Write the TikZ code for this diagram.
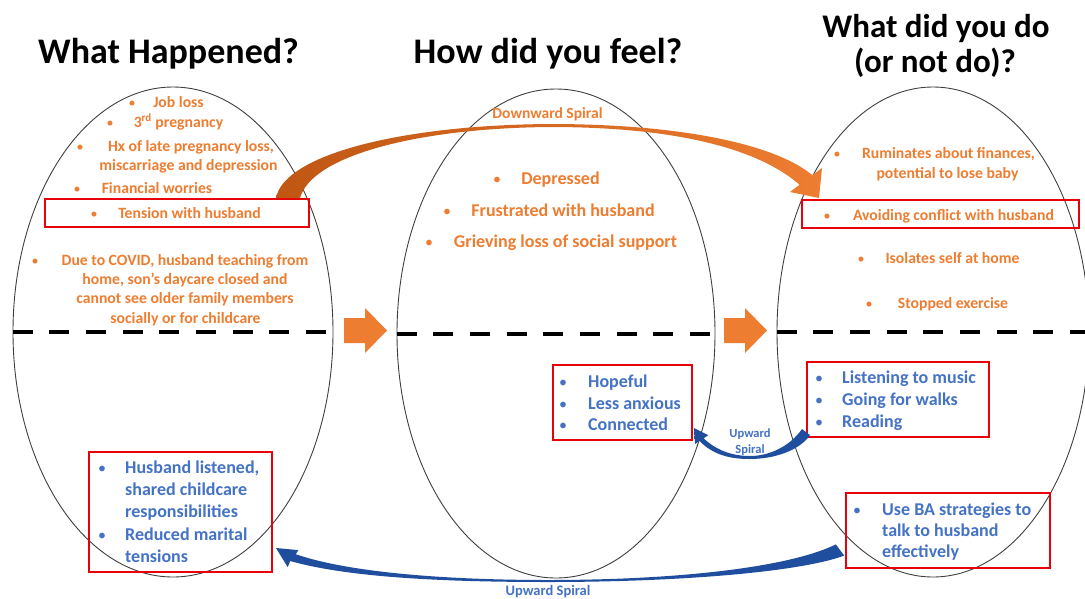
\documentclass[tikz,border=0pt]{standalone}
\usepackage{fontspec}
\setmainfont{Carlito}
\usetikzlibrary{shapes.geometric}
\definecolor{orng}{HTML}{ED7D31}
\definecolor{brwn}{HTML}{BF5612}
\definecolor{blu}{HTML}{4472C4}
\definecolor{dblu}{HTML}{1F4E9E}
\definecolor{redb}{HTML}{E8000B}
\tikzset{
  oval/.style={ellipse, draw=black!75, line width=0.9pt, inner sep=0pt},
  redbox/.style={draw=redb, line width=1.8pt, inner sep=0pt},
  ttl/.style={font=\fontsize{36}{40}\selectfont\bfseries, anchor=base, inner sep=0pt},
  otxt/.style={text=orng, font=\fontsize{15.7}{19}\selectfont\bfseries, anchor=base, inner sep=0pt},
  obig/.style={text=orng, font=\fontsize{18}{22}\selectfont\bfseries, anchor=base, inner sep=0pt},
  btxt/.style={text=blu, font=\fontsize{18}{22}\selectfont\bfseries, anchor=base west, inner sep=0pt},
  obul/.style={text=orng, font=\fontsize{14}{16}\selectfont, anchor=base, inner sep=0pt},
  bbul/.style={text=blu, font=\fontsize{16}{18}\selectfont, anchor=base, inner sep=0pt},
  lbl/.style={font=\fontsize{15.5}{18}\selectfont\bfseries, anchor=base, inner sep=0pt},
  midline/.style={line width=4pt, dash pattern=on 20pt off 16.7pt},
  blockarrow/.style={fill=orng, draw=none},
}
\begin{document}
\begin{tikzpicture}[x=1pt,y=-1pt]
\useasboundingbox (0,0) rectangle (1085,598);
\fill[white] (0,0) rectangle (1085,598);

% ovals
\node[oval, minimum width=320, minimum height=490] (e1) at (173,332) {};
\node[oval, minimum width=318, minimum height=489] (e2) at (556,333.5) {};
\node[oval, minimum width=312, minimum height=490] (e3) at (933,332) {};

% dashed divider
\draw[midline] (e1.west) -- (e1.east);
\draw[midline] (e2.west) -- (e2.east);
\draw[midline] (e3.west) -- (e3.east);

% block arrows
\fill[blockarrow] (344,318) -- (365,318) -- (365,308) -- (387,330.5) -- (365,353) -- (365,343) -- (344,343) -- cycle;
\fill[blockarrow] (724,318) -- (745,318) -- (745,308) -- (767,330.5) -- (745,353) -- (745,343) -- (724,343) -- cycle;

% titles
\node[ttl] (t1) at (168.5,63) {What Happened?};
\node[ttl] (t2) at (548,63) {How did you feel?};
\node[ttl, font=\fontsize{33}{38}\selectfont\bfseries] (t3) at (936,37) {What did you do};
\node[ttl, font=\fontsize{33}{38}\selectfont\bfseries] (t4) at (935,72) {(or not do)?};

% red boxes
\node[redbox, minimum width=264, minimum height=28] (b1) at (177,213) {};
\node[redbox, minimum width=277, minimum height=28] (b2) at (940.5,214) {};
\node[redbox, minimum width=139, minimum height=75] (b3) at (622.5,402.5) {};
\node[redbox, minimum width=182, minimum height=75] (b4) at (898,399.5) {};
\node[redbox, minimum width=183, minimum height=120] (b5) at (180.5,512) {};
\node[redbox, minimum width=204, minimum height=75] (b6) at (948,530.5) {};

% downward spiral
\shade[left color=brwn, middle color=orng!85, right color=orng]
  (276,198) .. controls (284,155) and (400,125) .. (550,124)
  .. controls (680,124) and (775,144) .. (812.4,175.2)
  -- (822,168) -- (819,198) -- (790,192) -- (799.6,184.8)
  .. controls (760,150) and (680,127) .. (550,127)
  .. controls (420,128) and (312,155) .. (300,198) -- cycle;
\node[lbl, text=orng] (dl) at (547.5,118) {Downward Spiral};

% upward spiral (bottom)
\shade[left color=dblu, middle color=blu!55, right color=dblu]
  (835.8,544.4) -- (844.2,555.6)
  .. controls (800,572) and (680,582) .. (548,582)
  .. controls (450,582) and (350,578) .. (290.2,561)
  -- (287.7,567.1) -- (276,548) -- (298.3,550.1) -- (295.8,554.2)
  .. controls (350,573) and (450,580) .. (548,580)
  .. controls (680,580) and (790,567) .. (835.8,544.4) -- cycle;
\node[lbl, text=blu, font=\fontsize{14.5}{16}\selectfont\bfseries] (ul) at (548,595) {Upward Spiral};

% upward spiral (small)
\shade[left color=dblu, middle color=blu!75, right color=dblu]
  (802,429) -- (810,435)
  .. controls (800,450) and (775,459) .. (750,459)
  .. controls (735,459) and (715,457) .. (699.6,441)
  -- (695.1,444) -- (694,428) -- (708.3,435.2) -- (703.6,438.3)
  .. controls (718,452) and (735,456) .. (750,456)
  .. controls (770,456) and (790,446) .. (802,429) -- cycle;
\node[lbl, text=blu, font=\fontsize{12.5}{14}\selectfont\bfseries] (us1) at (750,437) {Upward};
\node[lbl, text=blu, font=\fontsize{12.5}{14}\selectfont\bfseries] (us2) at (750,453) {Spiral};

% left column orange
\node[obul] (ab1) at (132,107) {•};
\node[otxt] (a1) at (178.5,107) {Job loss};
\node[obul] (ab2) at (110,127) {•};
\node[otxt] (a2) at (178.5,127) {3\textsuperscript{rd} pregnancy};
\node[obul] (ab3) at (80,151) {•};
\node[otxt] (a3) at (191,151) {Hx of late pregnancy loss,};
\node[otxt] (a4) at (188.5,170) {miscarriage and depression};
\node[obul] (ab5) at (77,193) {•};
\node[otxt] (a5) at (157,193) {Financial worries};
\node[obul] (ab6) at (94,218) {•};
\node[otxt] (a6) at (189.5,218) {Tension with husband};
\node[obul] (ab7) at (35,265) {•};
\node[otxt] (a7) at (185,265) {Due to COVID, husband teaching from};
\node[otxt] (a8) at (185,284) {home, son’s daycare closed and};
\node[otxt] (a9) at (185,303) {cannot see older family members};
\node[otxt] (a10) at (185.5,323) {socially or for childcare};

% middle column orange
\node[obul, font=\fontsize{16}{18}\selectfont] (mb1) at (497,184) {•};
\node[obig] (m1) at (560.5,184) {Depressed};
\node[obul, font=\fontsize{16}{18}\selectfont] (mb2) at (447,216) {•};
\node[obig] (m2) at (563,216) {Frustrated with husband};
\node[obul, font=\fontsize{16}{18}\selectfont] (mb3) at (429,247) {•};
\node[obig] (m3) at (565.5,247) {Grieving loss of social support};

% right column orange
\node[obul] (rb1) at (837,158) {•};
\node[otxt] (r1) at (948.5,158) {Ruminates about finances,};
\node[otxt] (r2) at (947.5,178) {potential to lose baby};
\node[obul] (rb3) at (827,220) {•};
\node[otxt] (r3) at (953.5,220) {Avoiding conflict with husband};
\node[obul] (rb4) at (861,263) {•};
\node[otxt] (r4) at (952.5,263) {Isolates self at home};
\node[obul] (rb5) at (869,308) {•};
\node[otxt] (r5) at (953,308) {Stopped exercise};

% blue boxes text
\node[bbul] (hb1) at (563,387) {•};
\node[btxt] (h1) at (588,387) {Hopeful};
\node[bbul] (hb2) at (563,409) {•};
\node[btxt] (h2) at (588,409) {Less anxious};
\node[bbul] (hb3) at (563,430) {•};
\node[btxt] (h3) at (588,430) {Connected};

\node[bbul] (lb1) at (819,383) {•};
\node[btxt] (l1) at (842,383) {Listening to music};
\node[bbul] (lb2) at (819,405) {•};
\node[btxt] (l2) at (842,405) {Going for walks};
\node[bbul] (lb3) at (819,427) {•};
\node[btxt] (l3) at (842,427) {Reading};

\node[bbul] (sb1) at (102,473) {•};
\node[btxt] (s1) at (125,473) {Husband listened,};
\node[btxt] (s2) at (125,495) {shared childcare};
\node[btxt] (s3) at (125,517) {responsibilities};
\node[bbul] (sb4) at (102,540) {•};
\node[btxt] (s4) at (125,540) {Reduced marital};
\node[btxt] (s5) at (125,562) {tensions};

\node[bbul] (ub1) at (857,515) {•};
\node[btxt] (u1) at (882,515) {Use BA strategies to};
\node[btxt] (u2) at (882,536) {talk to husband};
\node[btxt] (u3) at (882,557) {effectively};
\end{tikzpicture}
\end{document}
